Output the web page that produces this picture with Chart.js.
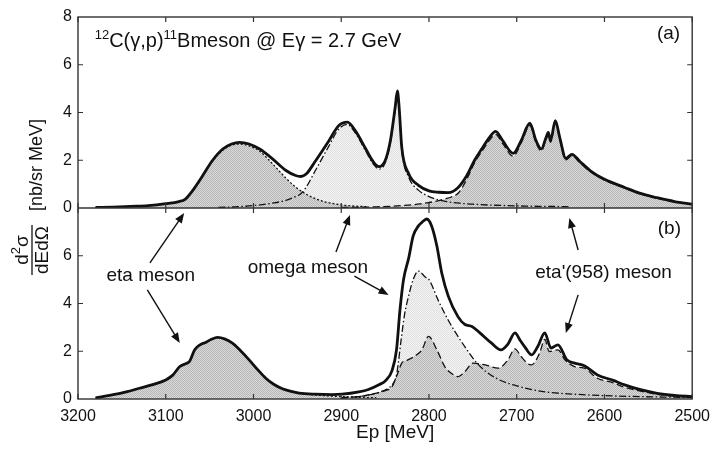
<!DOCTYPE html>
<html>
<head>
<meta charset="utf-8">
<script src="https://cdn.jsdelivr.net/npm/chart.js@4.4.0/dist/chart.umd.min.js"></script>
<style>
  html, body { margin: 0; padding: 0; background: #fff; }
  #spectrum { display: block; }
</style>
</head>
<body>
<canvas id="spectrum" width="718" height="452"></canvas>
<script>
// x axis: proton energy Ep [MeV], shared by both panels
const epTicks = [3200, 3100, 3000, 2900, 2800, 2700, 2600, 2500];
const valTicks = [0, 2, 4, 6, 8];

// ---- panel (a) ----
const aTotEp = [3180, 3160, 3140, 3120, 3100, 3085, 3078, 3070, 3058, 3047, 3035, 3025, 3016, 3005, 2993,
  2979, 2963, 2952, 2946, 2940, 2929, 2914, 2903, 2893, 2884, 2872, 2863, 2857, 2850, 2844,
  2838.5, 2836, 2834, 2831, 2823, 2812, 2800, 2789, 2778, 2767, 2757, 2748, 2740, 2731, 2724,
  2716, 2704, 2695, 2685, 2678, 2672, 2666.5, 2664, 2661.5, 2656, 2651, 2644, 2637, 2628, 2616,
  2600, 2577, 2560, 2540, 2520, 2500];
const aTot = [0.02, 0.04, 0.07, 0.1, 0.18, 0.27, 0.36, 0.7, 1.35, 1.98, 2.47, 2.68, 2.75, 2.68, 2.47,
  2.08, 1.57, 1.36, 1.32, 1.42, 1.99, 2.82, 3.45, 3.6, 3.24, 2.47, 1.91, 1.73, 1.98, 2.82,
  4.22, 4.9, 4.22, 2.54, 1.42, 0.95, 0.72, 0.66, 0.64, 0.85, 1.35, 2.0, 2.47, 2.96, 3.21,
  2.82, 2.29, 2.82, 3.55, 2.82, 2.47, 2.96, 3.17, 2.82, 3.66, 2.96, 2.08, 2.25, 1.95, 1.56,
  1.2, 0.86, 0.62, 0.43, 0.27, 0.16];

const aEtaEp = [3180, 3160, 3140, 3120, 3100, 3085, 3078, 3070, 3058, 3047, 3035, 3025, 3016, 3005, 2993,
  2979, 2963, 2952, 2940, 2930, 2920, 2910, 2900, 2890, 2880, 2870];
const aEta = [0.02, 0.04, 0.07, 0.1, 0.18, 0.27, 0.35, 0.68, 1.33, 1.95, 2.42, 2.63, 2.68, 2.6, 2.38,
  1.88, 1.25, 0.88, 0.58, 0.4, 0.27, 0.19, 0.13, 0.09, 0.07, 0.05];

const aOmegaEp = [3040, 3020, 3000, 2979, 2963, 2952, 2946, 2940, 2929, 2914, 2903, 2893, 2884, 2872, 2863,
  2857, 2850, 2844, 2838.5, 2836, 2834, 2831, 2823, 2812, 2800, 2790, 2780, 2765, 2750, 2730,
  2710, 2690, 2670, 2650, 2640];
const aOmega = [0.02, 0.05, 0.1, 0.2, 0.32, 0.48, 0.6, 0.87, 1.6, 2.6, 3.3, 3.5, 3.15, 2.38, 1.82,
  1.63, 1.88, 2.72, 4.12, 4.82, 4.12, 2.45, 1.28, 0.75, 0.48, 0.35, 0.27, 0.2, 0.16, 0.12,
  0.1, 0.08, 0.07, 0.06, 0.05];

const aEtaPEp = [2900, 2880, 2860, 2840, 2820, 2810, 2800, 2790, 2782, 2775, 2766, 2757, 2748, 2740, 2731,
  2724, 2716, 2704, 2695, 2685, 2678, 2672, 2666.5, 2664, 2661.5, 2656, 2651, 2644, 2637, 2628,
  2616, 2600, 2577, 2560, 2540, 2520, 2500];
const aEtaP = [0.02, 0.03, 0.05, 0.08, 0.13, 0.17, 0.23, 0.3, 0.38, 0.45, 0.65, 1.2, 1.9, 2.35, 2.84,
  3.08, 2.7, 2.17, 2.72, 3.45, 2.73, 2.39, 2.88, 3.09, 2.75, 3.58, 2.89, 2.02, 2.19, 1.9,
  1.52, 1.17, 0.84, 0.6, 0.41, 0.26, 0.15];

// ---- panel (b) ----
const bTotEp = [3180, 3160, 3145, 3130, 3115, 3100, 3092, 3084, 3076, 3073, 3067, 3061, 3054, 3048, 3041,
  3033, 3024, 3015, 3005, 2995, 2986, 2977, 2967, 2957, 2948, 2930, 2910, 2899, 2880, 2869,
  2857, 2850, 2842, 2837, 2833, 2829, 2823, 2818, 2812, 2808, 2802.5, 2797, 2791, 2785.5, 2778,
  2767, 2759, 2751, 2742, 2729, 2718, 2710, 2702, 2696, 2690, 2683, 2676, 2668, 2661, 2653,
  2643, 2634, 2623, 2608, 2590, 2577, 2560, 2540, 2520, 2500];
const bTot = [0.05, 0.18, 0.3, 0.45, 0.6, 0.8, 1.0, 1.36, 1.5, 1.57, 2.06, 2.27, 2.38, 2.5, 2.58,
  2.52, 2.34, 2.03, 1.64, 1.22, 0.87, 0.62, 0.43, 0.32, 0.25, 0.2, 0.18, 0.2, 0.3, 0.4,
  0.6, 0.75, 1.2, 2.06, 3.75, 5.0, 5.92, 6.83, 7.25, 7.4, 7.54, 7.25, 6.41, 5.29, 4.31,
  3.45, 3.12, 3.04, 2.77, 2.35, 2.06, 2.3, 2.77, 2.45, 2.14, 1.85, 2.2, 2.77, 2.13, 2.27,
  1.65, 1.5, 1.39, 1.01, 0.78, 0.59, 0.4, 0.24, 0.15, 0.1];

const bEtaEp = [3180, 3160, 3145, 3130, 3115, 3100, 3092, 3084, 3076, 3073, 3067, 3061, 3054, 3048, 3041,
  3033, 3024, 3015, 3005, 2995, 2986, 2977, 2967, 2957, 2948, 2930, 2910, 2890, 2870, 2860];
const bEta = [0.05, 0.18, 0.3, 0.45, 0.6, 0.8, 1.0, 1.36, 1.5, 1.57, 2.06, 2.27, 2.38, 2.5, 2.58,
  2.52, 2.34, 2.03, 1.64, 1.22, 0.87, 0.62, 0.43, 0.32, 0.24, 0.17, 0.12, 0.09, 0.06, 0.05];

const bOmegaEp = [2900, 2880, 2869, 2855, 2846, 2840, 2837, 2835, 2832, 2828, 2823, 2818, 2812, 2804, 2800,
  2789, 2778, 2763, 2744, 2725, 2700, 2668, 2634, 2600, 2560, 2530, 2500];
const bOmega = [0.05, 0.1, 0.17, 0.3, 0.46, 0.7, 1.0, 1.5, 2.4, 3.5, 4.35, 5.0, 5.36, 5.1, 5.0,
  4.1, 3.3, 2.4, 1.45, 0.9, 0.55, 0.3, 0.2, 0.14, 0.1, 0.08, 0.06];

const bEtaPEp = [2900, 2880, 2861, 2850, 2842, 2837, 2831, 2825, 2820, 2814, 2808, 2800.5, 2791, 2782, 2772,
  2766.5, 2759, 2750, 2736, 2721, 2710, 2702, 2695, 2687, 2683, 2674, 2668, 2663, 2653, 2645,
  2634, 2623, 2608, 2590, 2578, 2560, 2540, 2520, 2500];
const bEtaP = [0.05, 0.1, 0.24, 0.35, 0.52, 0.94, 1.5, 1.62, 1.71, 1.85, 2.06, 2.62, 2.06, 1.36, 1.01,
  0.94, 1.15, 1.5, 1.43, 1.29, 1.64, 2.1, 1.78, 1.47, 1.43, 1.92, 2.5, 1.99, 2.06, 1.64,
  1.36, 1.29, 0.87, 0.68, 0.5, 0.34, 0.2, 0.12, 0.08];

// labels and arrows, placed in (Ep, panel value) units
const panelTags = [
  { text: '(a)', ep: 2527, v: 7.29, axis: 'yA' },
  { text: '(b)', ep: 2526, v: 7.12, axis: 'yB' }
];
const mesonNames = [
  { text: 'eta meson', ep: 3117, v: 5.15 },
  { text: 'omega meson', ep: 2938, v: 5.49 },
  { text: "eta'(958) meson", ep: 2601, v: 5.28 }
];
const pointers = [
  [[3118, 5.70], [3079, 7.79]],
  [[3121, 4.57], [3084, 2.35]],
  [[2906, 6.16], [2890, 7.71]],
  [[2885, 5.15], [2846, 4.36]],
  [[2630, 6.24], [2640, 7.58]],
  [[2630, 4.36], [2644, 2.76]]
];

const FONT = "'Liberation Sans', Arial, Helvetica, sans-serif";
const INK = '#111';

const canvas = document.getElementById('spectrum');
const ctx = canvas.getContext('2d');

// dotted grey screen, like a printed halftone
function halftone(base, dot) {
  const tile = document.createElement('canvas');
  tile.width = 2; tile.height = 2;
  const g = tile.getContext('2d');
  g.fillStyle = base; g.fillRect(0, 0, 2, 2);
  g.fillStyle = dot; g.fillRect(0, 0, 1, 1); g.fillRect(1, 1, 1, 1);
  return ctx.createPattern(tile, 'repeat');
}
const darkFill = halftone('#dadada', '#b6b6b6');
const lightFill = halftone('#f4f4f4', '#e0e0e0');

const pts = (ep, val) => ep.map((e, i) => ({ x: e, y: val[i] }));

function curve(ep, val, axis, opts) {
  return Object.assign({
    data: pts(ep, val),
    yAxisID: axis,
    borderColor: INK,
    borderWidth: 1.3,
    fill: false,
    pointRadius: 0,
    cubicInterpolationMode: 'monotone'
  }, opts);
}

const dotted = [2, 2];
const dashDot = [7, 2.5, 1.5, 2.5];
const dashed = [7, 3.5];

// first dataset is painted last (on top); fills go in reverse order too
const datasets = [
  curve(aTotEp, aTot, 'yA', { borderWidth: 2.8 }),
  curve(bTotEp, bTot, 'yB', { borderWidth: 2.8 }),
  curve(aEtaEp, aEta, 'yA', { borderDash: dotted, fill: 'origin', backgroundColor: darkFill }),
  curve(aEtaPEp, aEtaP, 'yA', { borderDash: dashed, fill: 'origin', backgroundColor: darkFill }),
  curve(bEtaEp, bEta, 'yB', { borderDash: dotted, fill: 'origin', backgroundColor: darkFill }),
  curve(bEtaPEp, bEtaP, 'yB', { borderDash: dashed, fill: 'origin', backgroundColor: darkFill }),
  curve(aOmegaEp, aOmega, 'yA', { borderDash: dashDot, fill: 'origin', backgroundColor: lightFill }),
  curve(bOmegaEp, bOmega, 'yB', { borderDash: dashDot, fill: 'origin', backgroundColor: lightFill })
];

function panelAxis(hideTop) {
  return {
    type: 'linear',
    position: 'left',
    stack: 'panels',
    stackWeight: 1,
    min: 0,
    max: 8,
    afterBuildTicks: s => { s.ticks = valTicks.map(v => ({ value: v })); },
    afterFit: s => { s.width = 78; },
    grid: { display: false, drawTicks: false },
    border: { display: false },
    ticks: {
      padding: 6,
      color: INK,
      font: { family: FONT, size: 16 },
      callback: v => (hideTop && v === 8 ? '' : String(v))
    }
  };
}

function drawSuper(c, parts, x, y, size) {
  // parts: [text, isSuperscript]
  let cx = x;
  for (const [t, sup] of parts) {
    c.font = (sup ? Math.round(size * 0.66) : size) + 'px ' + FONT;
    c.fillText(t, cx, sup ? y - size * 0.4 : y);
    cx += c.measureText(t).width;
  }
  return cx - x;
}

function measureSuper(c, parts, size) {
  let w = 0;
  for (const [t, sup] of parts) {
    c.font = (sup ? Math.round(size * 0.66) : size) + 'px ' + FONT;
    w += c.measureText(t).width;
  }
  return w;
}

function arrowHead(c, x1, y1, x2, y2) {
  const ang = Math.atan2(y2 - y1, x2 - x1);
  const len = 10, half = 4;
  c.beginPath();
  c.moveTo(x1, y1);
  c.lineTo(x2 - Math.cos(ang) * len * 0.8, y2 - Math.sin(ang) * len * 0.8);
  c.stroke();
  c.beginPath();
  c.moveTo(x2, y2);
  c.lineTo(x2 - Math.cos(ang) * len - Math.sin(ang) * half, y2 - Math.sin(ang) * len + Math.cos(ang) * half);
  c.lineTo(x2 - Math.cos(ang) * len + Math.sin(ang) * half, y2 - Math.sin(ang) * len - Math.cos(ang) * half);
  c.closePath();
  c.fill();
}

const decorations = {
  id: 'decorations',
  afterDraw(chart) {
    const c = chart.ctx;
    const area = chart.chartArea;
    const x = chart.scales.x, ya = chart.scales.yA, yb = chart.scales.yB;
    c.save();

    // frame and panel divider
    c.strokeStyle = '#333';
    c.lineWidth = 1.4;
    c.strokeRect(area.left, area.top, area.right - area.left, area.bottom - area.top);
    c.beginPath();
    c.moveTo(area.left, ya.bottom);
    c.lineTo(area.right, ya.bottom);
    c.stroke();

    // inward tick marks
    const tl = 5;
    c.lineWidth = 1.2;
    c.beginPath();
    for (const v of epTicks) {
      const px = x.getPixelForValue(v);
      for (const s of [ya, yb]) {
        c.moveTo(px, s.top); c.lineTo(px, s.top + tl);
        c.moveTo(px, s.bottom); c.lineTo(px, s.bottom - tl);
      }
    }
    for (const s of [ya, yb]) {
      for (const v of valTicks) {
        if (v === 0 || v === 8) continue;
        const py = s.getPixelForValue(v);
        c.moveTo(area.left, py); c.lineTo(area.left + tl, py);
        c.moveTo(area.right, py); c.lineTo(area.right - tl, py);
      }
    }
    c.stroke();

    c.fillStyle = INK;
    c.strokeStyle = INK;

    // reaction label
    c.textBaseline = 'alphabetic';
    c.textAlign = 'left';
    drawSuper(c, [['12', true], ['C(\u03b3,p)', false], ['11', true], ['Bmeson @ E\u03b3 = 2.7 GeV', false]],
      x.getPixelForValue(3181), ya.getPixelForValue(6.74), 20);

    // panel tags and meson names
    c.textAlign = 'center';
    c.textBaseline = 'middle';
    c.font = '19px ' + FONT;
    for (const t of panelTags) {
      c.fillText(t.text, x.getPixelForValue(t.ep), chart.scales[t.axis].getPixelForValue(t.v));
    }
    for (const t of mesonNames) {
      c.fillText(t.text, x.getPixelForValue(t.ep), yb.getPixelForValue(t.v));
    }

    // arrows
    c.lineWidth = 1.4;
    for (const [from, to] of pointers) {
      arrowHead(c, x.getPixelForValue(from[0]), yb.getPixelForValue(from[1]),
        x.getPixelForValue(to[0]), yb.getPixelForValue(to[1]));
    }

    // x axis title
    c.font = '19px ' + FONT;
    c.textAlign = 'center';
    c.textBaseline = 'alphabetic';
    c.fillText('Ep [MeV]', (area.left + area.right) / 2 + 10, 438);

    // y axis title, rotated
    c.save();
    c.translate(42, 165);
    c.rotate(-Math.PI / 2);
    c.font = '18px ' + FONT;
    c.textAlign = 'center';
    c.fillText('[nb/sr MeV]', 0, 0);
    c.restore();

    c.save();
    c.translate(32, 250);
    c.rotate(-Math.PI / 2);
    c.textAlign = 'left';
    const num = [['d', false], ['2', true], ['\u03c3', false]];
    const wNum = measureSuper(c, num, 19);
    drawSuper(c, num, -wNum / 2, -4, 19);
    c.font = '19px ' + FONT;
    const den = 'dEd\u03a9';
    const wDen = c.measureText(den).width;
    c.fillText(den, -wDen / 2, 16);
    c.lineWidth = 1.3;
    c.beginPath();
    c.moveTo(-wDen / 2 - 1, 0);
    c.lineTo(wDen / 2 + 1, 0);
    c.stroke();
    c.restore();

    c.restore();
  }
};

new Chart(ctx, {
  type: 'line',
  data: { datasets },
  options: {
    responsive: false,
    animation: false,
    devicePixelRatio: 1,
    layout: { padding: { top: 17, right: 23, left: 0, bottom: 0 } },
    plugins: {
      legend: { display: false },
      tooltip: { enabled: false },
      filler: { drawTime: 'beforeDatasetsDraw' }
    },
    scales: {
      x: {
        type: 'linear',
        reverse: true,
        min: 2500,
        max: 3200,
        afterBuildTicks: s => { s.ticks = epTicks.map(v => ({ value: v })); },
        afterFit: s => { s.height = 53; },
        grid: { display: false, drawTicks: false },
        border: { display: false },
        ticks: {
          padding: 8,
          color: INK,
          maxRotation: 0,
          font: { family: FONT, size: 16 },
          callback: v => String(v)
        }
      },
      yB: panelAxis(true),
      yA: panelAxis(false)
    }
  },
  plugins: [decorations]
});
</script>
</body>
</html>
